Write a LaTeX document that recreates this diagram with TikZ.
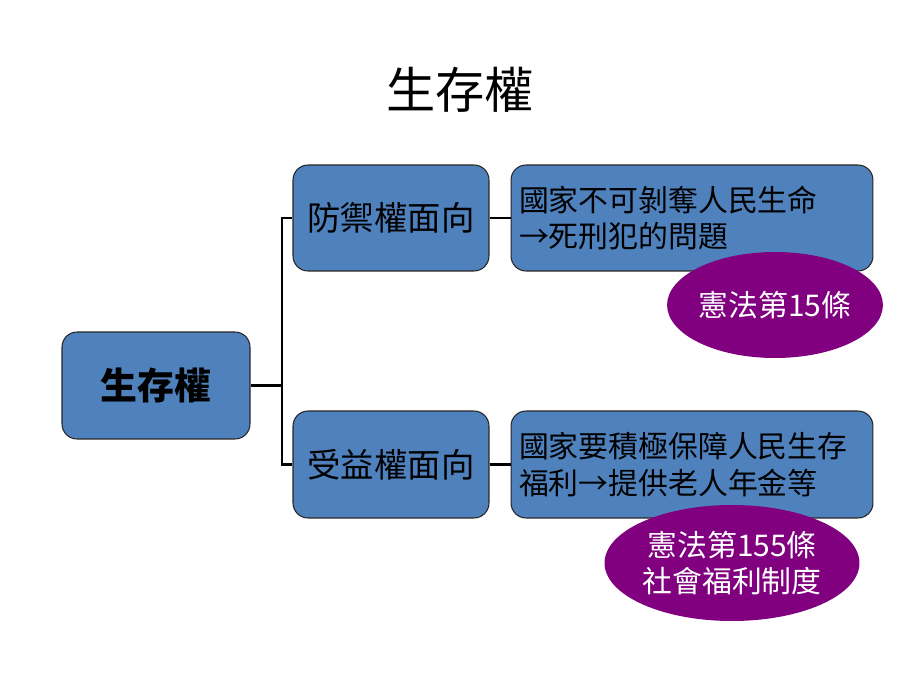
\documentclass[tikz,border=0pt]{standalone}
\usepackage{fontspec}
\newfontfamily\cjk{Noto Sans CJK TC}
\usetikzlibrary{shapes.geometric}
\definecolor{boxblue}{HTML}{4F81BD}
\definecolor{ellpurple}{HTML}{800080}
\tikzset{
  bluebox/.style={draw=black!85, line width=0.6pt, fill=boxblue, rounded corners=0.3cm, font=\cjk, text=black},
  purpleell/.style={ellipse, fill=ellpurple, draw=none, font=\cjk\fontsize{17}{21}\selectfont, text=white, align=center, inner sep=0pt},
  conn/.style={line width=1.6pt, black}
}
\begin{document}
\begin{tikzpicture}[x=0.02cm, y=-0.02cm]
\useasboundingbox (0,0) rectangle (920,690);
\node[font=\cjk\fontsize{28}{32}\selectfont] (title) at (460,90) {生存權};
\node[bluebox, minimum width=3.76cm, minimum height=2.14cm, font=\cjk\fontsize{21}{24}\selectfont\bfseries] (main) at (156,385.5) {生存權};
\node[bluebox, minimum width=3.92cm, minimum height=2.12cm, font=\cjk\fontsize{19}{22}\selectfont] (mid1) at (391,218) {防禦權面向};
\node[bluebox, minimum width=3.92cm, minimum height=2.14cm, font=\cjk\fontsize{19}{22}\selectfont] (mid2) at (391,464.5) {受益權面向};
\node[bluebox, minimum width=7.24cm, minimum height=2.12cm, text width=6.92cm, inner xsep=0.16cm, align=left, font=\cjk\fontsize{17}{21}\selectfont] (r1) at (692,218) {國家不可剝奪人民生命\\→死刑犯的問題};
\node[bluebox, minimum width=7.24cm, minimum height=2.14cm, text width=6.92cm, inner xsep=0.16cm, align=left, font=\cjk\fontsize{17}{21}\selectfont] (r2) at (692,464.5) {國家要積極保障人民生存\\福利→提供老人年金等};
\node[purpleell, minimum width=4.2cm, minimum height=2.12cm] (e1) at (775,305) {憲法第15條};
\node[purpleell, minimum width=5.1cm, minimum height=2.32cm] (e2) at (732,563) {憲法第155條\\社會福利制度};
\coordinate (j) at (282,385.5);
\draw[conn] (main.east) -- (j);
\draw[conn] (mid1.west) -| (j) |- (mid2.west);
\draw[conn] (mid1.east) -- (r1.west);
\draw[conn] (mid2.east) -- (r2.west);
\end{tikzpicture}
\end{document}
